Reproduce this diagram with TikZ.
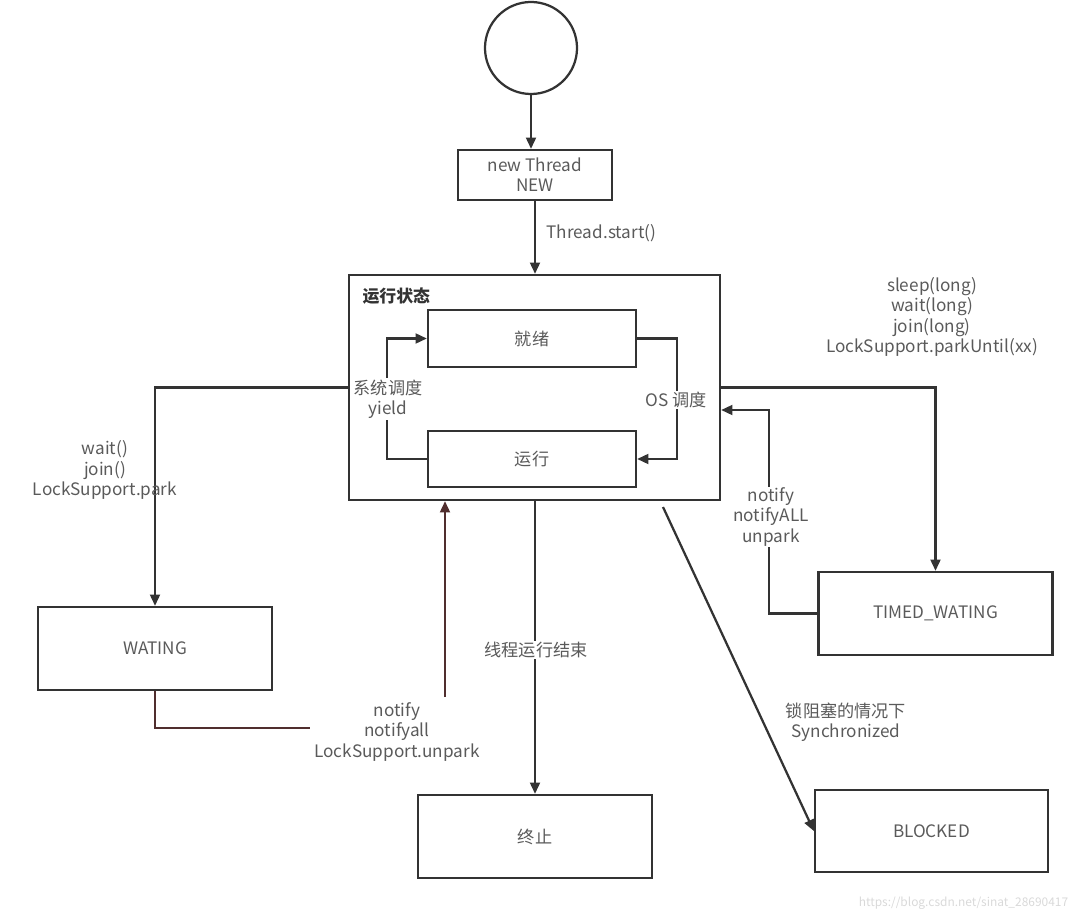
\documentclass[tikz,border=0pt]{standalone}
\usepackage{fontspec}
\setmainfont{Noto Sans CJK SC}
\usetikzlibrary{arrows.meta}
\definecolor{linec}{RGB}{51,51,51}
\definecolor{textc}{RGB}{90,90,90}
\definecolor{redc}{RGB}{80,46,46}

\begin{document}
\begin{tikzpicture}[x=0.025cm,y=-0.025cm,line width=1.6pt]
        \tikzset{
        box/.style={rectangle, draw=linec, text=textc, minimum width=5.85cm,
        minimum height=2.075cm, font=\fontsize{12.2}{14.3}\selectfont},
        lbl/.style={text=textc, align=center, inner sep=1pt,
        font=\fontsize{12.2}{14.3}\selectfont},
        arr/.style={draw=linec, -{Triangle[length=8pt,width=7pt]}},
        ln/.style={draw=linec},
        redln/.style={draw=redc},
        }
        \useasboundingbox (0,0) rectangle (1080,918);

        \node[circle, draw=linec, minimum size=2.3cm] (s0) at (531,48) {};
        \node[box, minimum width=3.85cm, minimum height=1.25cm, align=center] (nw) at (535,175) {new Thread\\NEW};
        \node[box, minimum width=9.275cm, minimum height=5.625cm] (run) at (534.5,387.5) {};
        \node[lbl, anchor=west, font=\fontsize{12}{14.3}\selectfont\bfseries, text=linec] (title) at (360,296) {运行状态};
        \node[box, minimum width=5.2cm, minimum height=1.425cm] (rdy) at (532,338.5) {就绪};
        \node[box, minimum width=5.2cm, minimum height=1.4cm] (rng) at (532,459) {运行};
        \node[box] (wt) at (155,648.5) {WATING};
        \node[box] (tw) at (935.5,613.5) {TIMED\_WATING};
        \node[box] (end) at (535,836.5) {终止};
        \node[box, minimum width=5.825cm, minimum height=2.05cm] (blk) at (931.5,831) {BLOCKED};

        \draw[arr] (s0.south) -- (s0.south |- nw.north);
        \draw[arr] (nw.south) -- (nw.south |- run.north);
        \node[lbl, anchor=west] (lstart) at (544,233) {Thread.start()};

        \draw[arr] (rng.west) -- ++(-40,0) |- (rdy.west);
        \node[lbl, fill=white] (lsys) at (388,399) {系统调度\\yield};
        \draw[arr] (rdy.east) -- ++(40,0) |- (rng.east);
        \node[lbl, fill=white] (los) at (676,400) {OS 调度};

        \draw[arr] (run.west) -| (wt.north);
        \node[lbl] (lwait) at (105,470) {wait()\\join()\\LockSupport.park};

        \coordinate (w1) at (310,728);
        \coordinate (w2) at (445,697);
        \draw[redln] (wt.south) |- (w1);
        \node[lbl] (lnotify) at (397,732) {notify\\notifyall\\LockSupport.unpark};
        \draw[redln, -{Triangle[length=8pt,width=7pt]}] (w2) -- (w2 |- run.south);

        \draw[arr] (end.north |- run.south) -- (end.north);
        \node[lbl, fill=white] (lend) at (536,650) {线程运行结束};

        \coordinate (b0) at (663,507);
        \draw[arr] (b0) -- (blk.west);
        \node[lbl] (lblk) at (846,722) {锁阻塞的情况下\\Synchronized};

        \draw[arr] (run.east) -| (tw.north);
        \node[lbl] (lsleep) at (932,317) {sleep(long)\\wait(long)\\join(long)\\LockSupport.parkUntil(xx)};
        \draw[arr] (tw.west) -- ++(-48,0) |- ([yshift=-0.5625cm]run.east);
        \node[lbl, fill=white] (lnall) at (771,517) {notify\\notifyALL\\unpark};

        \node[text=black!15, anchor=east, font=\fontsize{8.5}{10}\selectfont] (wm) at (1074,903) {https://blog.csdn.net/sinat\_28690417};
\end{tikzpicture}
\end{document}
